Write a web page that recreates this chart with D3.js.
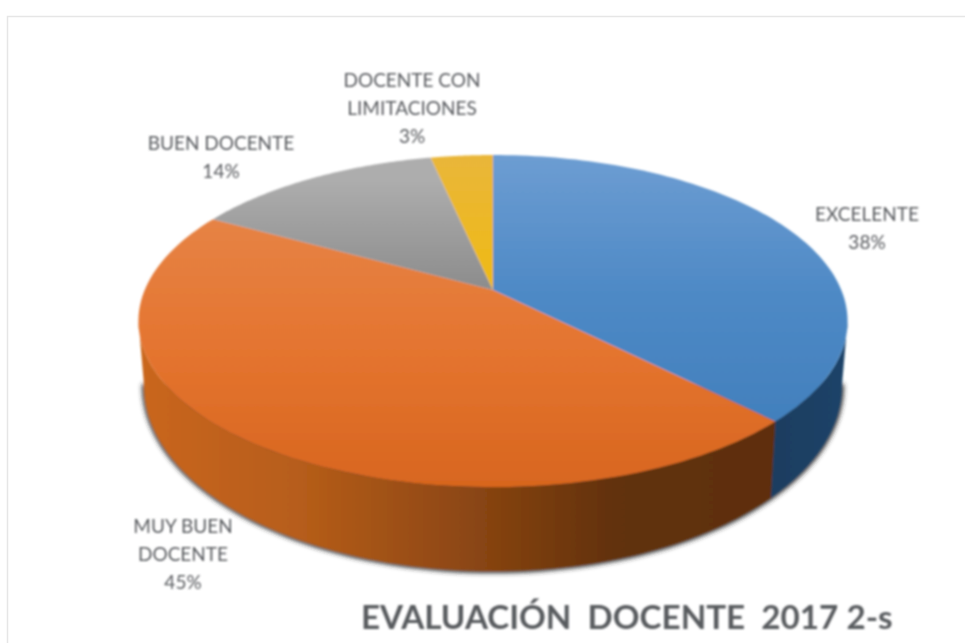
<!DOCTYPE html>
<html>
<head>
<meta charset="utf-8">
<script src="https://cdnjs.cloudflare.com/ajax/libs/d3/7.8.5/d3.min.js"></script>
<style>
html, body { margin: 0; padding: 0; background: #fff; }
svg { display: block; }
text { font-family: Lato, "Open Sans", sans-serif; fill: #595b5f; }
</style>
</head>
<body>
<script>
var categories = ["EXCELENTE", "MUY BUEN DOCENTE", "BUEN DOCENTE", "DOCENTE CON LIMITACIONES"]
var values = [37.6, 45.4, 13.6, 3.4]
var labelLines = [["EXCELENTE"], ["MUY BUEN", "DOCENTE"], ["BUEN DOCENTE"], ["DOCENTE CON", "LIMITACIONES"]]
var chartTitle = "EVALUACIÓN  DOCENTE  2017 2-s"

var svgWidth = 965
var svgHeight = 643

// perspective of the tilted disc, the centre of the pie is above the middle of the ellipse
var cx = 493, cy = 290, rx = 348.3, ry = 160.2, k = 0.187
var depth = 61.6, shrink = 0.984

function top3d(a){
    var u = Math.sin(a), v = Math.cos(a), w = 1 + k*v
    return [cx + rx*u/w, cy - ry*v/w]
}
function bottom3d(a){
    var p = top3d(a), w = 1 + k*Math.cos(a)
    return [cx + (p[0]-cx)*shrink, p[1] + depth/Math.pow(w, 1.5)]
}
function arcPoints(fn, a0, a1){
    return d3.range(0, 101).map(i => fn(a0 + (a1-a0)*i/100))
}
var line = d3.line()

var svg = d3.select("body").append("svg")
    .attr("width", svgWidth)
    .attr("height", svgHeight)
var defs = svg.append("defs")

function gradient(id, vertical, stops, range){
    var g = defs.append("linearGradient").attr("id", id).attr("gradientUnits", "userSpaceOnUse")
    if (vertical) g.attr("x1", 0).attr("x2", 0).attr("y1", range[0]).attr("y2", range[1])
    else g.attr("y1", 0).attr("y2", 0).attr("x1", range[0]).attr("x2", range[1])
    stops.forEach((c, i) => g.append("stop").attr("offset", i/(stops.length-1)).attr("stop-color", c))
}
gradient("top0", true, ["#6d9dd2", "#4f8ac6", "#4280bd"], [155, 421])
gradient("top1", true, ["#e68345", "#e4742f", "#d8661f"], [220, 487])
gradient("top2", true, ["#adadad", "#8c8c8c"], [180, 290])
gradient("top3", true, ["#e9b63a", "#efba14"], [155, 290])
gradient("wall0", false, ["#1b3d60", "#1d4368"], [770, 845])
gradient("wall1", false, ["#c9661f", "#b65d1a", "#8f4813", "#62310c", "#5e2f0c"], [145, 770])

defs.append("filter").attr("id", "shadow").attr("x", "-5%").attr("y", "-5%").attr("width", "110%").attr("height", "110%")
    .append("feGaussianBlur").attr("stdDeviation", 2.2)
defs.append("filter").attr("id", "soft").attr("x", "-5%").attr("y", "-5%").attr("width", "110%").attr("height", "110%")
    .append("feGaussianBlur").attr("stdDeviation", 0.8)

// thin frame of the pasted picture
svg.append("path")
    .attr("d", line([[7.5, svgHeight], [7.5, 16.5], [svgWidth, 16.5]]))
    .attr("fill", "none")
    .attr("stroke", "#e6e6e6")
    .attr("stroke-width", 1.5)

var arcs = d3.pie().sort(null)(values)
var g = svg.append("g").attr("filter", "url(#soft)")

// the wall is seen between the two tangent points of the disc
var frontFrom = Math.PI/2 + Math.asin(k), frontTo = 3*Math.PI/2 - Math.asin(k)

// shadow under the side of the disc
g.append("path")
    .attr("d", line(arcPoints(bottom3d, frontFrom, frontTo)) + "Z")
    .attr("fill", "#333")
    .attr("stroke", "#333")
    .attr("stroke-width", 4)
    .attr("filter", "url(#shadow)")

// side walls, only the part facing us
arcs.slice(0, 2).forEach(d => {
    var a0 = Math.max(d.startAngle, frontFrom), a1 = Math.min(d.endAngle, frontTo)
    g.append("path")
        .attr("d", line(arcPoints(top3d, a0, a1).concat(arcPoints(bottom3d, a1, a0))) + "Z")
        .attr("fill", "url(#wall" + d.index + ")")
})

// top face
arcs.forEach(d => {
    g.append("path")
        .attr("d", line([[cx, cy]].concat(arcPoints(top3d, d.startAngle, d.endAngle))) + "Z")
        .attr("fill", "url(#top" + d.index + ")")
})

// data labels
var labelPos = [[867, 221], [183, 533], [221, 150], [412, 87]]
var lineGap = 28
var labels = svg.append("g").attr("filter", "url(#soft)")
    .selectAll("text")
    .data(arcs)
    .enter().append("text")
    .attr("text-anchor", "middle")
    .attr("font-size", 19)
    .attr("transform", d => "translate(" + labelPos[d.index] + ")")
labels.each(function(d){
    var rows = labelLines[d.index].concat([d3.format(".0f")(d.value) + "%"])
    d3.select(this).selectAll("tspan").data(rows).enter().append("tspan")
        .attr("x", 0)
        .attr("y", (r, i) => i*lineGap)
        .text(r => r)
})

svg.append("text")
    .attr("x", 361)
    .attr("y", 629)
    .attr("font-size", 33.2)
    .attr("font-weight", 700)
    .attr("filter", "url(#soft)")
    .style("white-space", "pre")
    .text(chartTitle)
</script>
</body>
</html>
